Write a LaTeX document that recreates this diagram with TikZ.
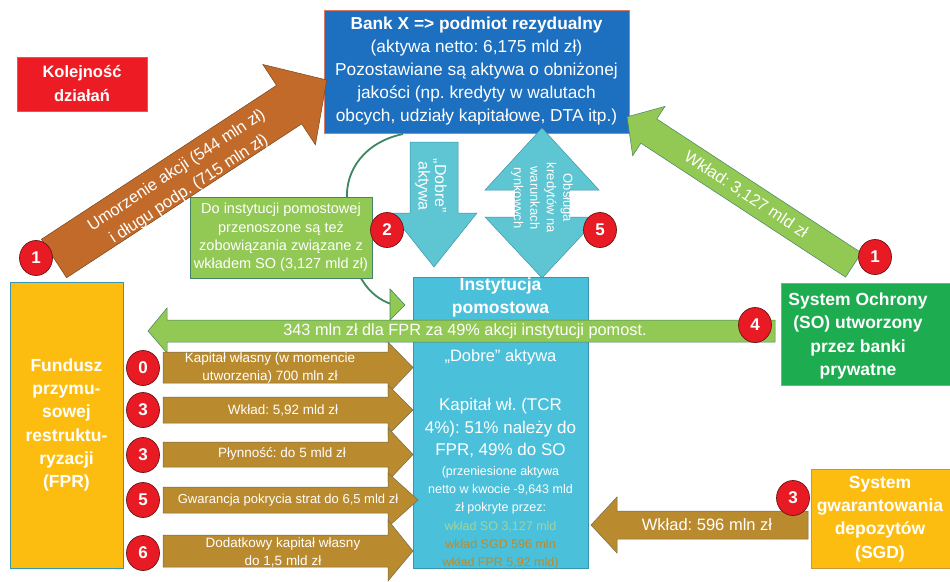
\documentclass[tikz,border=0pt]{standalone}
\usepackage{fontspec}
\setmainfont{Liberation Sans}
\frenchspacing
\usetikzlibrary{shapes.geometric}
\definecolor{bankblue}{RGB}{29,111,192}
\definecolor{bankedge}{RGB}{214,120,100}
\definecolor{kolred}{RGB}{237,28,36}
\definecolor{numred}{RGB}{232,26,36}
\definecolor{numdark}{RGB}{110,20,20}
\definecolor{diagbrown}{RGB}{194,106,42}
\definecolor{diagedge}{RGB}{120,70,30}
\definecolor{lgreen}{RGB}{146,200,84}
\definecolor{lgreenedge}{RGB}{70,130,100}
\definecolor{curvegreen}{RGB}{60,135,95}
\definecolor{sogreen}{RGB}{29,172,80}
\definecolor{fpryellow}{RGB}{253,189,16}
\definecolor{yelledge}{RGB}{200,150,60}
\definecolor{cyanbox}{RGB}{75,192,218}
\definecolor{cyanedge}{RGB}{55,150,175}
\definecolor{tealarrow}{RGB}{94,197,210}
\definecolor{tealedge}{RGB}{60,150,170}
\definecolor{goldarrow}{RGB}{186,138,46}
\definecolor{goldedge}{RGB}{110,110,80}
\definecolor{palegreen}{RGB}{160,212,160}
\definecolor{goldtext}{RGB}{190,138,40}
\tikzset{
  num/.style={ellipse, fill=numred, draw=numdark, line width=0.7pt, text=white,
    font=\bfseries\fontsize{17}{17}\selectfont, minimum width=33pt, minimum height=35pt, inner sep=0pt},
  wtxt/.style={text=white, align=center, inner sep=0pt},
  blockbox/.style={rectangle, line width=0.6pt, inner sep=0pt},
  goldarr/.style={fill=goldarrow, draw=goldedge, line width=0.5pt},
  goldtxt/.style={wtxt, font=\fontsize{13.5}{18}\selectfont},
}
\begin{document}
\begin{tikzpicture}[x=1pt,y=-1pt]
\useasboundingbox (0,0) rectangle (950,581);
\fill[white] (0,0) rectangle (950,581);

% Kolejnosc
\node[blockbox, fill=kolred, draw=gray, minimum width=130pt, minimum height=54pt,
  wtxt, font=\bfseries\fontsize{16.5}{24}\selectfont] (kol) at (82,84) {Kolejność\\działań};

% Bank X
\node[blockbox, fill=bankblue, draw=bankedge, minimum width=305pt, minimum height=123pt,
  text=white, align=center, font=\fontsize{17.3}{23}\selectfont] (bank) at (476.5,71.5)
  {\textbf{Bank X => podmiot rezydualny}\\(aktywa netto: 6,175 mld zł)\\Pozostawiane są aktywa o obniżonej\\jakości (np. kredyty w walutach\\obcych, udziały kapitałowe, DTA itp.)};

% curved arrow (behind the green note)
\coordinate (cstart) at (403,134);
\coordinate (cend) at (391,304);
\draw[curvegreen, line width=1.8pt] (cstart) .. controls (365,142) and (345,170) .. (347,200)
   .. controls (349,240) and (352,265) .. (362,280) .. controls (370,293) and (380,300) .. (cend);
\draw[fill=lgreen, draw=curvegreen, line width=0.6pt] (390,289) -- (405,305) -- (390,320) -- cycle;

% Dobre aktywa down arrow
\draw[fill=tealarrow, draw=tealedge, line width=0.5pt] (410,142) -- (458,142) -- (458,213) -- (477,213)
   -- (434,267) -- (391,213) -- (410,213) -- cycle;
\node[wtxt, rotate=-90, font=\fontsize{16}{16.5}\selectfont] (dobre) at (431,186) {„Dobre”\\aktywa};

% Obsluga double arrow
\draw[fill=tealarrow, draw=tealedge, line width=0.5pt] (542,128) -- (599,190) -- (569,190) -- (569,217)
   -- (599,217) -- (542,278) -- (485,217) -- (515,217) -- (515,190) -- (485,190) -- cycle;
\node[wtxt, rotate=-90, font=\fontsize{13}{16.5}\selectfont] (obs) at (542,198) {Obsługa\\kredytów na\\warunkach\\rynkowych};

% Instytucja pomostowa
\node[blockbox, fill=cyanbox, draw=cyanedge, minimum width=175pt, minimum height=291pt] (inst) at (500.5,422.5) {};
\node[wtxt, font=\bfseries\fontsize{17.5}{23}\selectfont] (insttitle) at (500.5,297) {Instytucja\\pomostowa};
\node[wtxt, font=\fontsize{16.5}{20}\selectfont] (instdobre) at (500.5,357) {„Dobre” aktywa};
\node[wtxt, font=\fontsize{17}{22.5}\selectfont] (instkap) at (500.5,428) {Kapitał wł. (TCR\\4\%): 51\% należy do\\FPR, 49\% do SO};
\node[wtxt, font=\fontsize{12.5}{18}\selectfont] (instprz) at (500.5,490) {(przeniesione aktywa\\netto w kwocie -9,643 mld\\zł pokryte przez:};
\node[align=center, inner sep=0pt, font=\fontsize{12.5}{18}\selectfont] (instwk) at (500.5,545)
  {\textcolor{palegreen}{wkład SO 3,127 mld}\\\textcolor{goldtext}{wkład SGD 596 mln}\\\textcolor{goldtext}{wkład FPR 5,92 mld)}};

% diagonal brown arrow
\begin{scope}[shift={(54,258.5)}, rotate=33.2]
\draw[fill=diagbrown, draw=diagedge, line width=0.5pt] (0,-23) -- (281,-23) -- (281,-48) -- (326,0)
   -- (281,48) -- (281,23) -- (0,23) -- cycle;
\end{scope}
\node[wtxt, rotate=33.2, font=\fontsize{16.5}{22.5}\selectfont] (umorz) at (183,180)
  {Umorzenie akcji (544 mln zł)\\i długu podp. (715 mln zł)};

% green SO arrow to bank
\begin{scope}[shift={(853.5,265)}, rotate=146.8]
\draw[fill=lgreen, draw=lgreenedge, line width=0.5pt] (0,-14.5) -- (244.6,-14.5) -- (244.6,-29.5) -- (270.6,0)
   -- (244.6,29.5) -- (244.6,14.5) -- (0,14.5) -- cycle;
\end{scope}
\node[wtxt, rotate=-33.2, font=\fontsize{16.5}{20}\selectfont] (wkso) at (746,195) {Wkład: 3,127 mld zł};

% FPR box
\node[blockbox, fill=fpryellow, draw=cyanedge, minimum width=113pt, minimum height=286pt,
  wtxt, font=\bfseries\fontsize{17.5}{23.2}\selectfont] (fpr) at (66.5,425)
  {Fundusz\\przymu-\\sowej\\restruktu-\\ryzacji\\(FPR)};

% SO box
\node[blockbox, fill=sogreen, draw=yelledge, minimum width=171pt, minimum height=102pt] (so) at (866.5,334) {};
\node[wtxt, font=\bfseries\fontsize{17.5}{23.3}\selectfont] (sotxt) at (858,336) {System Ochrony\\(SO) utworzony\\przez banki\\prywatne};

% SGD box
\node[blockbox, fill=fpryellow, draw=yelledge, minimum width=141pt, minimum height=99pt] (sgd) at (881.5,518.5) {};
\node[wtxt, font=\bfseries\fontsize{17.5}{23.3}\selectfont] (sgdtxt) at (880,519) {System\\gwarantowania\\depozytów\\(SGD)};

% green horizontal arrow 343 mln
\draw[fill=lgreen, draw=lgreenedge, line width=0.5pt] (775,320) -- (167,320) -- (167,308) -- (148,331)
   -- (167,353) -- (167,342) -- (775,342) -- cycle;
\node[wtxt, font=\fontsize{16.3}{20}\selectfont] (fpr343) at (465,331) {343 mln zł dla FPR za 49\% akcji instytucji pomost.};

% gold arrows FPR -> instytucja
\draw[goldarr] (163,352) -- (388,352) -- (388,342) -- (413,367.5) -- (388,394) -- (388,383) -- (163,383) -- cycle;
\draw[goldarr] (163,397) -- (388,397) -- (388,385) -- (413,410) -- (388,435) -- (388,423) -- (163,423) -- cycle;
\draw[goldarr] (163,442) -- (388,442) -- (388,428) -- (413,454.5) -- (388,481) -- (388,467) -- (163,467) -- cycle;
\draw[goldarr] (163,487) -- (388,487) -- (388,473) -- (418,500) -- (388,527) -- (388,513) -- (163,513) -- cycle;
\draw[goldarr] (163,535) -- (388,535) -- (388,520) -- (413,551) -- (388,581) -- (388,567) -- (163,567) -- cycle;
\node[goldtxt] (g0) at (270,368) {Kapitał własny (w momencie\\utworzenia) 700 mln zł};
\node[goldtxt] (g1) at (283,410) {Wkład: 5,92 mld zł};
\node[goldtxt] (g2) at (282,454) {Płynność: do 5 mld zł};
\node[goldtxt, font=\fontsize{13}{18}\selectfont] (g3) at (288,500) {Gwarancja pokrycia strat do 6,5 mld zł};
\node[goldtxt] (g4) at (283,552) {Dodatkowy kapitał własny\\do 1,5 mld zł};

% SGD arrow
\draw[goldarr] (808,511) -- (617,511) -- (617,497) -- (591,525) -- (617,553) -- (617,539) -- (808,539) -- cycle;
\node[wtxt, font=\fontsize{16.5}{20}\selectfont] (sgdwk) at (707,525) {Wkład: 596 mln zł};

% green note
\node[blockbox, fill=lgreen, draw=lgreenedge, minimum width=182pt, minimum height=81pt,
  wtxt, font=\fontsize{14.5}{18.3}\selectfont] (note) at (281,237.5)
  {Do instytucji pomostowej\\przenoszone są też\\zobowiązania związane z\\wkładem SO (3,127 mld zł)};

% numbered circles
\node[num] (n1a) at (36,258) {1};
\node[num] (n1b) at (875,257) {1};
\node[num] (n2) at (387,230) {2};
\node[num] (n5a) at (600,230) {5};
\node[num] (n4) at (755,325) {4};
\node[num] (n0) at (143,368) {0};
\node[num] (n3a) at (143,410) {3};
\node[num] (n3b) at (143,455) {3};
\node[num] (n5b) at (143,500) {5};
\node[num] (n6) at (143,553) {6};
\node[num] (n3c) at (793,498) {3};
\end{tikzpicture}
\end{document}
